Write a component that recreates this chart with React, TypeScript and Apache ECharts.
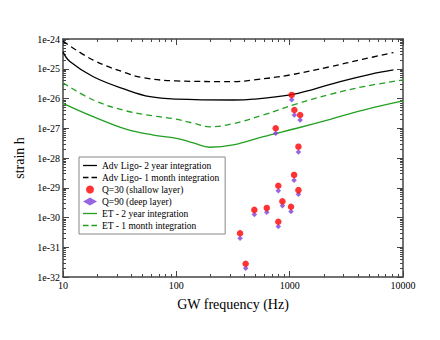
import React, { useEffect, useRef } from "react";
import * as echarts from "echarts";

const xMinor = [20, 30, 40, 50, 60, 70, 80, 90, 200, 300, 400, 500, 600, 700, 800, 900, 2000, 3000, 4000, 5000, 6000, 7000, 8000, 9000];
const yDecades = [-32, -31, -30, -29, -28, -27, -26, -25];
const minorMultipliers = [2, 3, 4, 5, 6, 7, 8, 9];

const ligo2yr: [number, number][] = [
  [10, 3.7e-25], [11.5, 1.74e-25], [18.5, 5.4e-26], [36.5, 1.95e-26], [58.6, 1.15e-26],
  [100, 9.5e-27], [318, 8.9e-27], [480, 9.5e-27], [1010, 1.32e-26], [1620, 2.04e-26],
  [2790, 3.7e-26], [5130, 6.5e-26], [8230, 9.1e-26],
];
const ligo1mo: [number, number][] = [
  [10, 8.5e-25], [18.5, 1.95e-25], [36.5, 7.1e-26], [51, 5.0e-26], [100, 3.9e-26],
  [318, 3.7e-26], [480, 4.2e-26], [1010, 6.2e-26], [2275, 1.17e-25], [4470, 2.1e-25],
  [8230, 3.5e-25],
];
const et2yr: [number, number][] = [
  [10, 6.9e-27], [18.5, 2.45e-27], [36.5, 9.1e-28], [62.7, 5.9e-28], [100, 4.6e-28],
  [141, 3.2e-28], [198, 2.3e-28], [318, 2.75e-28], [586, 5.2e-28], [1155, 1.0e-27],
  [2275, 2.0e-27], [4470, 4.1e-27], [10000, 8.3e-27],
];
const et1mo: [number, number][] = [
  [10, 3.4e-26], [18.5, 8.9e-27], [36.5, 3.8e-27], [62.7, 2.6e-27], [94, 2.1e-27],
  [141, 1.48e-27], [198, 1.12e-27], [310, 1.4e-27], [586, 2.8e-27], [1155, 6.6e-27],
  [2275, 1.38e-26], [4470, 2.5e-26], [10000, 4.2e-26],
];
const q30: [number, number][] = [
  [1042, 1.32e-26], [1100, 4.1e-27], [1237, 2.8e-27], [753, 1.0e-27], [1195, 2.4e-28],
  [1094, 2.7e-29], [794, 1.17e-29], [1195, 8.3e-30], [863, 3.5e-30], [1028, 2.3e-30],
  [628, 2.1e-30], [488, 1.8e-30], [794, 7.2e-31], [365, 2.95e-31], [409, 2.8e-32],
];
const q90: [number, number][] = [
  [1042, 9.1e-27], [1100, 2.8e-27], [1237, 1.9e-27], [753, 6.8e-28], [1195, 1.6e-28],
  [1094, 1.8e-29], [794, 7.9e-30], [1195, 6.0e-30], [863, 2.5e-30], [1028, 1.6e-30],
  [628, 1.5e-30], [488, 1.26e-30], [794, 5.0e-31], [365, 2.0e-31], [409, 1.95e-32],
];

const names = [
  "Adv Ligo- 2 year integration",
  "Adv Ligo- 1 month integration",
  "Q=30 (shallow layer)",
  "Q=90 (deep layer)",
  "ET - 2 year integration",
  "ET - 1 month integration",
];

const FONT = "'Liberation Serif', 'Times New Roman', serif";
const AXIS_COLOR = "#444";
const GREEN = "#22a022";
const SOLID_ICON = "path://M0,0h14v1.3h-14z";
const DASH_ICON = "path://M0,0h5.5v1.3h-5.5zM8.5,0h5.5v1.3h-5.5z";

// strain values span 1e-32..1e-24, too small for the log scale's rounding,
// so the y axis is a value axis over log10(h)
const toLog = (d: [number, number][]) => d.map(([f, h]) => [f, Math.log10(h)]);

export default function App() {
  const ref = useRef<HTMLDivElement>(null);
  useEffect(() => {
    if (!ref.current) return;
    const chart = echarts.init(ref.current, undefined, { renderer: "svg" });

    const xMinorLog = xMinor.map((v) => Math.log10(v));
    const yMinorLog: number[] = [];
    yDecades.forEach((e) => minorMultipliers.forEach((k) => yMinorLog.push(e + Math.log10(k))));

    const lineAxis = { show: true, lineStyle: { color: AXIS_COLOR, width: 1.5 } };
    const majorTick = { show: true, inside: true, length: 6, lineStyle: { color: AXIS_COLOR, width: 1 } };
    const minorTickStyle = (vals: number[]) => ({
      show: true,
      inside: true,
      length: 3,
      customValues: vals,
      lineStyle: { color: AXIS_COLOR, width: 1 },
    });

    const mkXMajor = (pos: "bottom" | "top", main: boolean) => ({
      type: "log",
      logBase: 10,
      min: 10,
      max: 10000,
      splitNumber: 3,
      position: pos,
      name: main ? "GW frequency (Hz)" : "",
      nameLocation: "middle",
      nameGap: 20,
      nameTextStyle: { fontFamily: FONT, fontSize: 14, color: "#000" },
      axisLine: lineAxis,
      axisTick: majorTick,
      axisLabel: {
        show: main,
        fontFamily: FONT,
        fontSize: 10,
        color: "#000",
        margin: 3,
        formatter: (v: number) => String(Math.round(v)),
      },
      splitLine: { show: false },
    });
    const mkXMinor = (pos: "bottom" | "top") => ({
      type: "value",
      min: 1,
      max: 4,
      position: pos,
      axisLine: { show: false },
      axisTick: minorTickStyle(xMinorLog),
      axisLabel: { show: false },
      splitLine: { show: false },
    });
    const mkYMajor = (pos: "left" | "right", main: boolean) => ({
      type: "value",
      min: -32,
      max: -24,
      interval: 1,
      position: pos,
      name: main ? "strain h" : "",
      nameLocation: "middle",
      nameGap: 34,
      nameTextStyle: { fontFamily: FONT, fontSize: 14, color: "#000" },
      axisLine: lineAxis,
      axisTick: majorTick,
      axisLabel: {
        show: main,
        fontFamily: FONT,
        fontSize: 10,
        color: "#000",
        margin: 3,
        formatter: (v: number) => "1e" + Math.round(v),
      },
      splitLine: { show: false },
    });
    const mkYMinor = (pos: "left" | "right") => ({
      type: "value",
      min: -32,
      max: -24,
      position: pos,
      axisLine: { show: false },
      axisTick: minorTickStyle(yMinorLog),
      axisLabel: { show: false },
      splitLine: { show: false },
    });

    const line = (name: string, data: [number, number][], color: string, dashed: boolean) => ({
      name,
      type: "line",
      data: toLog(data),
      smooth: 0.4,
      symbol: "none",
      xAxisIndex: 0,
      yAxisIndex: 0,
      lineStyle: { color, width: 1.3, type: dashed ? [6, 4] : "solid" },
      itemStyle: { color },
      z: 2,
    });

    chart.setOption({
      animation: false,
      backgroundColor: "#fff",
      grid: { left: 63, right: 37, top: 39, bottom: 63 },
      xAxis: [mkXMajor("bottom", true), mkXMajor("top", false), mkXMinor("bottom"), mkXMinor("top")],
      yAxis: [mkYMajor("left", true), mkYMajor("right", false), mkYMinor("left"), mkYMinor("right")],
      legend: {
        orient: "vertical",
        left: 79,
        top: 157,
        padding: [3, 6, 3, 4],
        itemGap: 1,
        itemWidth: 14,
        itemHeight: 8,
        backgroundColor: "#fff",
        borderColor: "#888",
        borderWidth: 1,
        borderRadius: 0,
        textStyle: { fontFamily: FONT, fontSize: 9.5, lineHeight: 11, color: "#000" },
        data: [
          { name: names[0], icon: SOLID_ICON },
          { name: names[1], icon: DASH_ICON },
          { name: names[2], icon: "circle" },
          { name: names[3], icon: "diamond" },
          { name: names[4], icon: SOLID_ICON },
          { name: names[5], icon: DASH_ICON },
        ],
      },
      series: [
        line(names[0], ligo2yr, "#000", false),
        line(names[1], ligo1mo, "#000", true),
        {
          name: names[2],
          type: "scatter",
          data: toLog(q30),
          symbol: "circle",
          symbolSize: 6.5,
          itemStyle: { color: "#ff0000" },
          z: 4,
        },
        {
          name: names[3],
          type: "scatter",
          data: toLog(q90),
          symbol: "diamond",
          symbolSize: 5.5,
          itemStyle: { color: "#7d3fd6" },
          z: 3,
        },
        line(names[4], et2yr, GREEN, false),
        line(names[5], et1mo, GREEN, true),
      ],
    });
    return () => chart.dispose();
  }, []);
  return (
    <div
      ref={ref}
      style={{ position: "fixed", left: 0, top: 0, width: 440, height: 340, background: "#fff" }}
    />
  );
}
